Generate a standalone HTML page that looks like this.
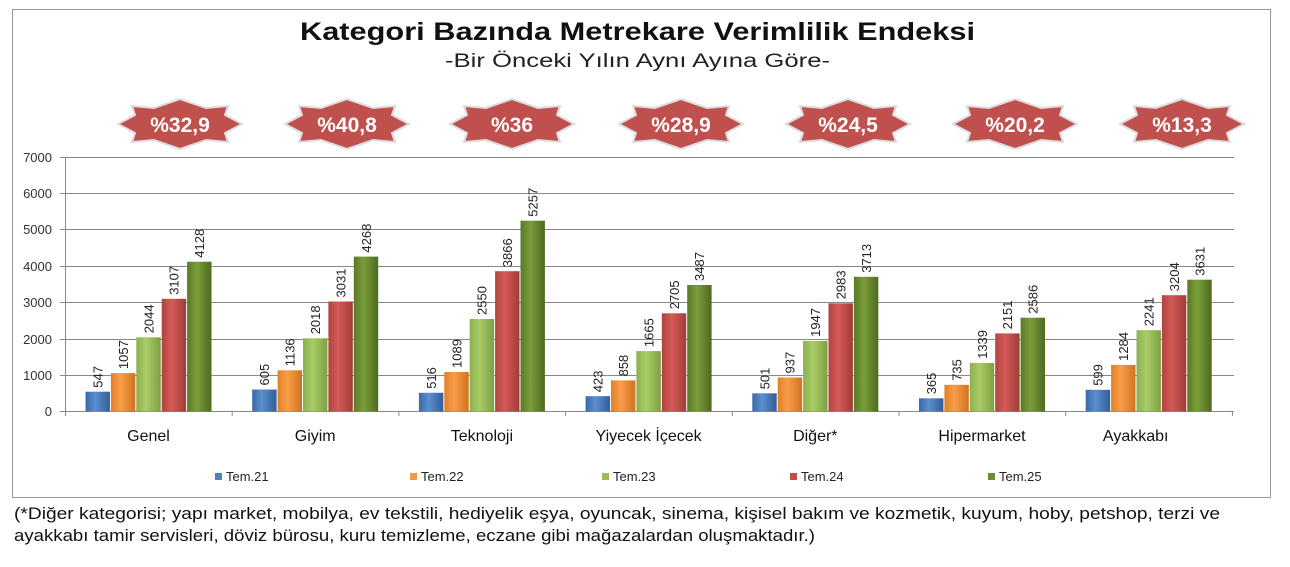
<!DOCTYPE html>
<html><head><meta charset="utf-8"><style>
body{margin:0;background:#fff;width:1290px;height:562px;overflow:hidden;font-family:"Liberation Sans",sans-serif}
</style></head><body>
<svg width="1290" height="562" xmlns="http://www.w3.org/2000/svg" font-family="Liberation Sans, DejaVu Sans, sans-serif">
<defs>
<linearGradient id="g0" x1="0" x2="1"><stop offset="0" stop-color="#3a6aa8"/><stop offset=".4" stop-color="#5b8fd0"/><stop offset="1" stop-color="#335e96"/></linearGradient>
<linearGradient id="g1" x1="0" x2="1"><stop offset="0" stop-color="#e07f28"/><stop offset=".4" stop-color="#fa9d48"/><stop offset="1" stop-color="#d0731e"/></linearGradient>
<linearGradient id="g2" x1="0" x2="1"><stop offset="0" stop-color="#8cb04e"/><stop offset=".4" stop-color="#a8cc66"/><stop offset="1" stop-color="#7e9f44"/></linearGradient>
<linearGradient id="g3" x1="0" x2="1"><stop offset="0" stop-color="#b04440"/><stop offset=".4" stop-color="#d45a56"/><stop offset="1" stop-color="#a03c38"/></linearGradient>
<linearGradient id="g4" x1="0" x2="1"><stop offset="0" stop-color="#5a7a26"/><stop offset=".4" stop-color="#7a9e3a"/><stop offset="1" stop-color="#4e6a20"/></linearGradient>
<polygon id="star" points="-62,0 -45,-9 -48,-18 -26,-16 0,-25 26,-16 48,-18 45,-9 62,0 45,9 48,18 26,16 0,25 -26,16 -48,18 -45,9" fill="#c0504d" stroke="#ddd" stroke-width="2"/>
</defs>
<rect x="12.5" y="9.5" width="1258" height="488" fill="#fff" stroke="#999"/>
<text x="300" y="40" textLength="675" lengthAdjust="spacingAndGlyphs" font-size="25" font-weight="bold" fill="#111">Kategori Bazında Metrekare Verimlilik Endeksi</text>
<text x="445" y="67" textLength="385" lengthAdjust="spacingAndGlyphs" font-size="19" fill="#222">-Bir Önceki Yılın Aynı Ayına Göre-</text>
<g stroke="#888" stroke-width="1">
<line x1="60" x2="1234" y1="157.5" y2="157.5"/><line x1="60" x2="1234" y1="193.5" y2="193.5"/>
<line x1="60" x2="1234" y1="229.5" y2="229.5"/><line x1="60" x2="1234" y1="266.5" y2="266.5"/>
<line x1="60" x2="1234" y1="302.5" y2="302.5"/><line x1="60" x2="1234" y1="339.5" y2="339.5"/>
<line x1="60" x2="1234" y1="375.5" y2="375.5"/><line x1="60" x2="1234" y1="411.5" y2="411.5"/>
<line x1="65.5" x2="65.5" y1="157" y2="416"/>
<line x1="232.2" x2="232.2" y1="411" y2="416"/><line x1="398.9" x2="398.9" y1="411" y2="416"/>
<line x1="565.6" x2="565.6" y1="411" y2="416"/><line x1="732.3" x2="732.3" y1="411" y2="416"/>
<line x1="899" x2="899" y1="411" y2="416"/><line x1="1065.7" x2="1065.7" y1="411" y2="416"/>
<line x1="1232.4" x2="1232.4" y1="411" y2="416"/>
</g>
<g font-size="13" fill="#333" text-anchor="end">
<text x="52" y="162">7000</text><text x="52" y="198">6000</text><text x="52" y="234">5000</text><text x="52" y="271">4000</text><text x="52" y="307">3000</text><text x="52" y="344">2000</text><text x="52" y="380">1000</text><text x="52" y="416">0</text>
</g>

<g font-size="13" fill="#222">
<g transform="translate(65.5,0)">
<rect x="20" y="391.7" width="24.4" height="19.8" fill="url(#g0)"/><text transform="translate(37,387.7) rotate(-90)">547</text>
<rect x="45.4" y="373.1" width="24.4" height="38.4" fill="url(#g1)"/><text transform="translate(62.4,369.1) rotate(-90)">1057</text>
<rect x="70.8" y="337.3" width="24.4" height="74.2" fill="url(#g2)"/><text transform="translate(87.8,333.3) rotate(-90)">2044</text>
<rect x="96.2" y="298.8" width="24.4" height="112.7" fill="url(#g3)"/><text transform="translate(113.2,294.8) rotate(-90)">3107</text>
<rect x="121.6" y="261.7" width="24.4" height="149.8" fill="url(#g4)"/><text transform="translate(138.6,257.7) rotate(-90)">4128</text>
<text x="83" y="441" font-size="16" text-anchor="middle" fill="#111">Genel</text>
</g>
<g transform="translate(232.2,0)">
<rect x="20" y="389.5" width="24.4" height="22" fill="url(#g0)"/><text transform="translate(37,385.5) rotate(-90)">605</text>
<rect x="45.4" y="370.3" width="24.4" height="41.2" fill="url(#g1)"/><text transform="translate(62.4,366.3) rotate(-90)">1136</text>
<rect x="70.8" y="338.3" width="24.4" height="73.2" fill="url(#g2)"/><text transform="translate(87.8,334.3) rotate(-90)">2018</text>
<rect x="96.2" y="301.5" width="24.4" height="110" fill="url(#g3)"/><text transform="translate(113.2,297.5) rotate(-90)">3031</text>
<rect x="121.6" y="256.6" width="24.4" height="154.9" fill="url(#g4)"/><text transform="translate(138.6,252.6) rotate(-90)">4268</text>
<text x="83" y="441" font-size="16" text-anchor="middle" fill="#111">Giyim</text>
</g>
<g transform="translate(398.9,0)">
<rect x="20" y="392.8" width="24.4" height="18.7" fill="url(#g0)"/><text transform="translate(37,388.8) rotate(-90)">516</text>
<rect x="45.4" y="372" width="24.4" height="39.5" fill="url(#g1)"/><text transform="translate(62.4,368) rotate(-90)">1089</text>
<rect x="70.8" y="319" width="24.4" height="92.5" fill="url(#g2)"/><text transform="translate(87.8,315) rotate(-90)">2550</text>
<rect x="96.2" y="271.2" width="24.4" height="140.3" fill="url(#g3)"/><text transform="translate(113.2,267.2) rotate(-90)">3866</text>
<rect x="121.6" y="220.7" width="24.4" height="190.8" fill="url(#g4)"/><text transform="translate(138.6,216.7) rotate(-90)">5257</text>
<text x="83" y="441" font-size="16" text-anchor="middle" fill="#111">Teknoloji</text>
</g>
<g transform="translate(565.6,0)">
<rect x="20" y="396.2" width="24.4" height="15.3" fill="url(#g0)"/><text transform="translate(37,392.2) rotate(-90)">423</text>
<rect x="45.4" y="380.4" width="24.4" height="31.1" fill="url(#g1)"/><text transform="translate(62.4,376.4) rotate(-90)">858</text>
<rect x="70.8" y="351.1" width="24.4" height="60.4" fill="url(#g2)"/><text transform="translate(87.8,347.1) rotate(-90)">1665</text>
<rect x="96.2" y="313.3" width="24.4" height="98.2" fill="url(#g3)"/><text transform="translate(113.2,309.3) rotate(-90)">2705</text>
<rect x="121.6" y="285" width="24.4" height="126.5" fill="url(#g4)"/><text transform="translate(138.6,281) rotate(-90)">3487</text>
<text x="83" y="441" font-size="16" text-anchor="middle" fill="#111">Yiyecek İçecek</text>
</g>
<g transform="translate(732.3,0)">
<rect x="20" y="393.3" width="24.4" height="18.2" fill="url(#g0)"/><text transform="translate(37,389.3) rotate(-90)">501</text>
<rect x="45.4" y="377.5" width="24.4" height="34" fill="url(#g1)"/><text transform="translate(62.4,373.5) rotate(-90)">937</text>
<rect x="70.8" y="340.9" width="24.4" height="70.6" fill="url(#g2)"/><text transform="translate(87.8,336.9) rotate(-90)">1947</text>
<rect x="96.2" y="303.3" width="24.4" height="108.2" fill="url(#g3)"/><text transform="translate(113.2,299.3) rotate(-90)">2983</text>
<rect x="121.6" y="276.8" width="24.4" height="134.7" fill="url(#g4)"/><text transform="translate(138.6,272.8) rotate(-90)">3713</text>
<text x="83" y="441" font-size="16" text-anchor="middle" fill="#111">Diğer*</text>
</g>
<g transform="translate(899,0)">
<rect x="20" y="398.3" width="24.4" height="13.2" fill="url(#g0)"/><text transform="translate(37,394.3) rotate(-90)">365</text>
<rect x="45.4" y="384.8" width="24.4" height="26.7" fill="url(#g1)"/><text transform="translate(62.4,380.8) rotate(-90)">735</text>
<rect x="70.8" y="362.9" width="24.4" height="48.6" fill="url(#g2)"/><text transform="translate(87.8,358.9) rotate(-90)">1339</text>
<rect x="96.2" y="333.4" width="24.4" height="78.1" fill="url(#g3)"/><text transform="translate(113.2,329.4) rotate(-90)">2151</text>
<rect x="121.6" y="317.7" width="24.4" height="93.8" fill="url(#g4)"/><text transform="translate(138.6,313.7) rotate(-90)">2586</text>
<text x="83" y="441" font-size="16" text-anchor="middle" fill="#111">Hipermarket</text>
</g>
<g transform="translate(1065.7,0)">
<rect x="20" y="389.8" width="24.4" height="21.7" fill="url(#g0)"/><text transform="translate(37,385.8) rotate(-90)">599</text>
<rect x="45.4" y="364.9" width="24.4" height="46.6" fill="url(#g1)"/><text transform="translate(62.4,360.9) rotate(-90)">1284</text>
<rect x="70.8" y="330.2" width="24.4" height="81.3" fill="url(#g2)"/><text transform="translate(87.8,326.2) rotate(-90)">2241</text>
<rect x="96.2" y="295.2" width="24.4" height="116.3" fill="url(#g3)"/><text transform="translate(113.2,291.2) rotate(-90)">3204</text>
<rect x="121.6" y="279.7" width="24.4" height="131.8" fill="url(#g4)"/><text transform="translate(138.6,275.7) rotate(-90)">3631</text>
<text x="70" y="441" font-size="16" text-anchor="middle" fill="#111">Ayakkabı</text>
</g>
</g>

<g font-size="21" font-weight="bold" fill="#fff" text-anchor="middle">
<g transform="translate(180,124)"><use href="#star"/><text y="8">%32,9</text></g>
<g transform="translate(347,124)"><use href="#star"/><text y="8">%40,8</text></g>
<g transform="translate(512,124)"><use href="#star"/><text y="8">%36</text></g>
<g transform="translate(681,124)"><use href="#star"/><text y="8">%28,9</text></g>
<g transform="translate(848,124)"><use href="#star"/><text y="8">%24,5</text></g>
<g transform="translate(1015,124)"><use href="#star"/><text y="8">%20,2</text></g>
<g transform="translate(1182,124)"><use href="#star"/><text y="8">%13,3</text></g>
</g>

<g font-size="13" fill="#222">
<rect x="215" y="473" width="7" height="7" fill="#4f81bd"/><text x="226" y="481">Tem.21</text>
<rect x="410" y="473" width="7" height="7" fill="#f79646"/><text x="421" y="481">Tem.22</text>
<rect x="602" y="473" width="7" height="7" fill="#9bbb59"/><text x="613" y="481">Tem.23</text>
<rect x="790" y="473" width="7" height="7" fill="#c0504d"/><text x="801" y="481">Tem.24</text>
<rect x="988" y="473" width="7" height="7" fill="#6a8f2e"/><text x="999" y="481">Tem.25</text>
</g>
<text x="14" y="519" textLength="1206" lengthAdjust="spacingAndGlyphs" font-size="17" fill="#111">(*Diğer kategorisi; yapı market, mobilya, ev tekstili, hediyelik eşya, oyuncak, sinema, kişisel bakım ve kozmetik, kuyum, hoby,  petshop, terzi ve</text>
<text x="14" y="541" textLength="801" lengthAdjust="spacingAndGlyphs" font-size="17" fill="#111">ayakkabı tamir servisleri, döviz bürosu, kuru temizleme, eczane gibi mağazalardan oluşmaktadır.)</text>
</svg>
</body></html>
